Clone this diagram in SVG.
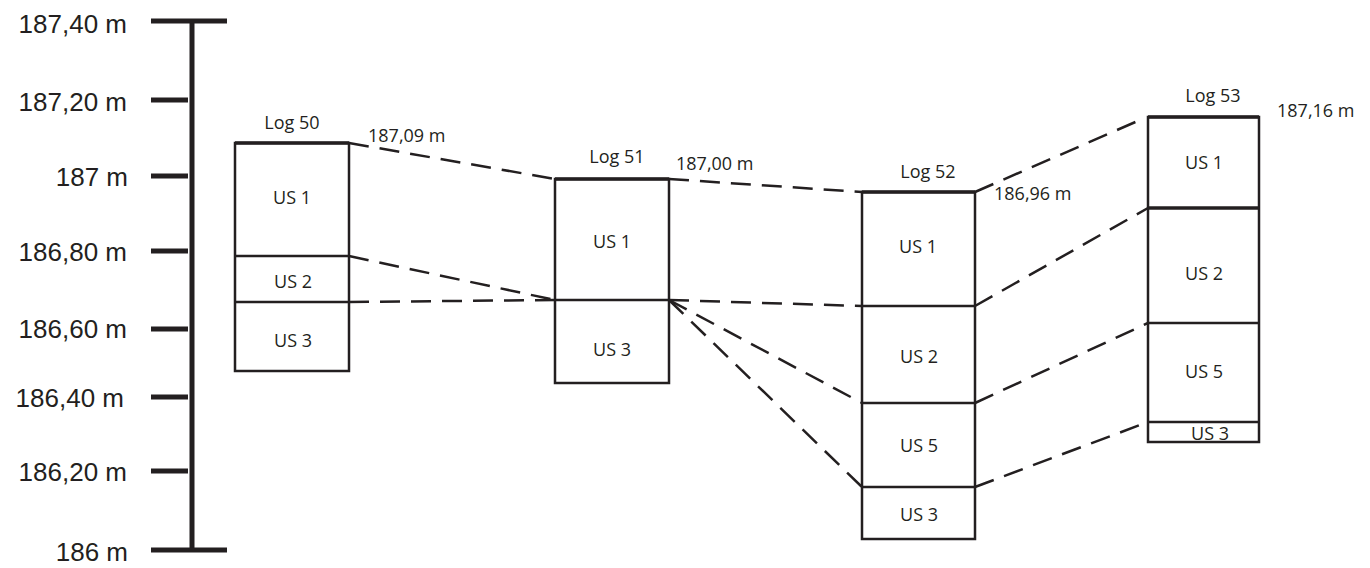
<svg xmlns="http://www.w3.org/2000/svg" width="1370" height="568" viewBox="0 0 1370 568">
<style>
.ax{font-family:"Liberation Sans",Arial,sans-serif;font-size:26px;fill:#231f20;text-anchor:end}
.t{font-family:"Open Sans","Noto Sans",sans-serif;font-size:18px;fill:#231f20;text-anchor:middle}
.e{font-family:"Open Sans","Noto Sans",sans-serif;font-size:18px;fill:#231f20}
.bx{fill:none;stroke:#231f20;stroke-width:2.5}
.top{stroke:#231f20;stroke-width:3.5}
.dv{stroke:#231f20;stroke-width:2.5}
.dash{stroke:#231f20;stroke-width:2.5;stroke-dasharray:20 11;fill:none}
.sc{stroke:#231f20;stroke-width:5}
</style>
<rect width="1370" height="568" fill="#fff"/>
<g id="scale">
<line class="sc" x1="192" y1="21" x2="192" y2="550"/>
<line class="sc" x1="151" y1="21" x2="227" y2="21"/>
<line class="sc" x1="151" y1="550" x2="227" y2="550"/>
<line class="sc" x1="151" y1="100" x2="188" y2="100"/>
<line class="sc" x1="151" y1="176" x2="188" y2="176"/>
<line class="sc" x1="151" y1="251" x2="188" y2="251"/>
<line class="sc" x1="151" y1="329" x2="188" y2="329"/>
<line class="sc" x1="151" y1="397" x2="188" y2="397"/>
<line class="sc" x1="151" y1="471" x2="188" y2="471"/>
<text class="ax" x="127" y="33">187,40 m</text>
<text class="ax" x="127" y="111">187,20 m</text>
<text class="ax" x="128" y="186">187 m</text>
<text class="ax" x="127" y="261">186,80 m</text>
<text class="ax" x="127" y="338">186,60 m</text>
<text class="ax" x="124" y="407">186,40 m</text>
<text class="ax" x="127" y="481">186,20 m</text>
<text class="ax" x="128" y="561">186 m</text>
</g>
<g id="log50">
<rect class="bx" x="235" y="143" width="114" height="228"/>
<line class="top" x1="235" y1="143" x2="349" y2="143"/>
<line class="dv" x1="235" y1="256" x2="349" y2="256"/>
<line class="dv" x1="235" y1="302" x2="349" y2="302"/>
<text class="t" x="292" y="129">Log 50</text>
<text class="e" x="368" y="142">187,09 m</text>
<text class="t" x="292" y="204">US 1</text>
<text class="t" x="293" y="288">US 2</text>
<text class="t" x="293" y="347">US 3</text>
</g>
<g id="log51">
<rect class="bx" x="555" y="179" width="114" height="204"/>
<line class="top" x1="555" y1="179" x2="669" y2="179"/>
<line class="dv" x1="555" y1="300" x2="669" y2="300"/>
<text class="t" x="617" y="163">Log 51</text>
<text class="e" x="676" y="170">187,00 m</text>
<text class="t" x="612" y="248">US 1</text>
<text class="t" x="612" y="356">US 3</text>
</g>
<g id="log52">
<rect class="bx" x="862" y="192" width="113" height="347"/>
<line class="top" x1="862" y1="192" x2="975" y2="192"/>
<line class="dv" x1="862" y1="306" x2="975" y2="306"/>
<line class="dv" x1="862" y1="403" x2="975" y2="403"/>
<line class="dv" x1="862" y1="487" x2="975" y2="487"/>
<text class="t" x="928" y="178">Log 52</text>
<text class="e" x="994" y="200">186,96 m</text>
<text class="t" x="918" y="253">US 1</text>
<text class="t" x="919" y="363">US 2</text>
<text class="t" x="919" y="452">US 5</text>
<text class="t" x="919" y="521">US 3</text>
</g>
<g id="log53">
<rect class="bx" x="1148" y="117" width="111" height="325"/>
<line class="top" x1="1148" y1="117" x2="1259" y2="117"/>
<line class="top" x1="1148" y1="208" x2="1259" y2="208"/>
<line class="dv" x1="1148" y1="323" x2="1259" y2="323"/>
<line class="dv" x1="1148" y1="422" x2="1259" y2="422"/>
<text class="t" x="1213" y="102">Log 53</text>
<text class="e" x="1277" y="117">187,16 m</text>
<text class="t" x="1204" y="169">US 1</text>
<text class="t" x="1204" y="280">US 2</text>
<text class="t" x="1204" y="378">US 5</text>
<text class="t" x="1210" y="440">US 3</text>
</g>
<g id="connectors">
<line class="dash" x1="349" y1="143" x2="555" y2="179"/>
<line class="dash" x1="349" y1="256" x2="555" y2="300"/>
<line class="dash" x1="349" y1="302" x2="555" y2="300"/>
<line class="dash" x1="669" y1="179" x2="862" y2="192"/>
<line class="dash" x1="669" y1="300" x2="862" y2="306"/>
<line class="dash" x1="669" y1="300" x2="862" y2="403"/>
<line class="dash" x1="669" y1="300" x2="862" y2="487"/>
<line class="dash" x1="975" y1="192" x2="1140" y2="120"/>
<line class="dash" x1="975" y1="306" x2="1148" y2="208"/>
<line class="dash" x1="975" y1="403" x2="1148" y2="323"/>
<line class="dash" x1="975" y1="487" x2="1148" y2="422"/>
</g>
</svg>
